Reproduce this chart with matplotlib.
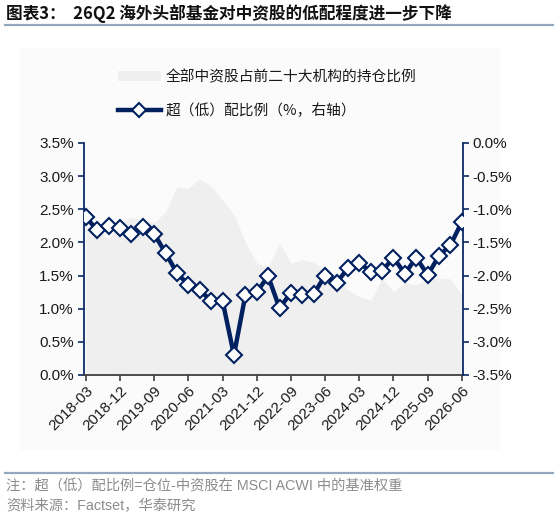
import numpy as np
import pandas as pd
import matplotlib
matplotlib.use("Agg")
import matplotlib.pyplot as plt
from matplotlib.patches import Patch, Rectangle
from matplotlib.lines import Line2D
from matplotlib.ticker import FuncFormatter, FixedLocator

plt.rcParams['font.family'] = ['Liberation Sans', 'Noto Sans CJK SC', 'DejaVu Sans']

# quarterly data, 2018-03 .. 2026-06
quarters = [p.strftime('%Y-%m') for p in pd.period_range('2018Q1', '2026Q2', freq='Q').to_timestamp(how='end')]

# share of China stocks held by top-20 funds (%, left axis)
holding = [2.25, 2.20, 2.04, 2.30, 2.38, 2.34, 2.30, 2.46, 2.84, 2.82, 2.96, 2.85,
           2.64, 2.42, 2.00, 1.69, 1.62, 1.99, 1.69, 1.74, 1.70, 1.57, 1.45, 1.28,
           1.18, 1.13, 1.46, 1.26, 1.40, 1.36, 1.46, 1.46, 1.45, 1.21]

# over/under-weight ratio (%, right axis)
overweight = [-1.11, -1.32, -1.25, -1.28, -1.37, -1.26, -1.37, -1.66, -1.96, -2.14, -2.22, -2.38,
              -2.38, -3.20, -2.30, -2.25, -2.01, -2.49, -2.26, -2.30, -2.28, -2.00, -2.11, -1.89,
              -1.81, -1.94, -1.93, -1.73, -1.97, -1.73, -1.99, -1.70, -1.54, -1.19]

navy = '#0b2a66'
line_col = '#002060'
area_col = '#efefef'
rule_col = '#93a9bf'

x = np.arange(len(quarters))

fig = plt.figure(figsize=(5.54, 5.28), dpi=100)
W, H = 554, 528

# faint panel behind the chart
fig.patches.append(Rectangle((20 / W, 1 - 450 / H), 480 / W, 402 / H,
                             transform=fig.transFigure, facecolor='#fbfbfb', edgecolor='none', zorder=-5))

ax = fig.add_axes([83.5 / W, 1 - 375 / H, (463 - 83.5) / W, (375 - 143) / H])
ax.set_facecolor('none')
ax.fill_between(x, 0, holding, color=area_col, linewidth=0, zorder=1)
ax.set_xlim(-0.2, 33.1)
ax.set_ylim(0, 3.5)
ax.yaxis.set_major_locator(FixedLocator(np.arange(0, 3.51, 0.5)))
ax.yaxis.set_major_formatter(FuncFormatter(lambda v, p: f'{v:.1f}%'))

ax2 = ax.twinx()
ax2.plot(x, overweight, color=line_col, lw=3.2, marker='D', ms=8.5,
         mfc='white', mec=line_col, mew=1.5, zorder=3)
ax2.set_ylim(-3.5, 0)
ax2.yaxis.set_major_locator(FixedLocator(np.arange(-3.5, 0.01, 0.5)))
ax2.yaxis.set_major_formatter(FuncFormatter(lambda v, p: f'{v:.1f}%'))

ticks = x[::3]
ax.set_xticks(ticks)
ax.set_xticklabels([quarters[i] for i in ticks], rotation=45, ha='right', rotation_mode='anchor')

for a in (ax, ax2):
    a.spines['top'].set_visible(False)
ax.spines['right'].set_visible(False)
ax2.spines['left'].set_visible(False)
ax2.spines['bottom'].set_visible(False)
ax.spines['left'].set_color(navy)
ax.spines['left'].set_linewidth(1.3)
ax2.spines['right'].set_color(navy)
ax2.spines['right'].set_linewidth(1.3)
ax.spines['bottom'].set_color('#404040')
ax.spines['bottom'].set_linewidth(1.3)

ax.tick_params(axis='y', direction='out', length=4, width=1.2, color=navy, labelsize=11, labelcolor='#1a1a1a', pad=3)
ax2.tick_params(axis='y', direction='out', length=4, width=1.2, color=navy, labelsize=11, labelcolor='#1a1a1a', pad=3)
ax.tick_params(axis='x', direction='out', length=4, width=1.2, color='#404040', labelsize=11, labelcolor='#1a1a1a', pad=2)

handles = [Patch(facecolor=area_col, edgecolor='none'),
           Line2D([0], [0], color=line_col, lw=3.2, marker='D', ms=7.5, mfc='white', mec=line_col, mew=1.5)]
labels = ['全部中资股占前二十大机构的持仓比例', '超（低）配比例（%，右轴）']
fig.legend(handles, labels, loc='upper left', bbox_to_anchor=(118 / W, 1 - 70 / H),
           frameon=False, borderpad=0, borderaxespad=0, handlelength=2.9, handletextpad=0.35,
           labelspacing=1.3, prop={'family': ['Noto Sans CJK SC'], 'size': 10.6}, labelcolor='#1a1a1a')

# title and rules
fig.text(6 / W, 1 - 14 / H, '图表3：  26Q2 海外头部基金对中资股的低配程度进一步下降',
         fontsize=12, fontweight='bold', va='center', ha='left',
         family=['Noto Sans CJK SC', 'DejaVu Sans'], color='#111111')
fig.add_artist(Line2D([5 / W, 1], [1 - 25 / H] * 2, color=rule_col, lw=1.6, transform=fig.transFigure))
fig.add_artist(Line2D([5 / W, 1], [1 - 473 / H] * 2, color=rule_col, lw=1.6, transform=fig.transFigure))

fig.text(6 / W, 1 - 486 / H, '注：超（低）配比例=仓位-中资股在 MSCI ACWI 中的基准权重',
         fontsize=10.3, color='#8c8c8c', va='center', ha='left')
fig.text(6 / W, 1 - 506 / H, '资料来源：Factset，华泰研究',
         fontsize=10.3, color='#8c8c8c', va='center', ha='left')

fig.savefig('out.png', dpi=100)
